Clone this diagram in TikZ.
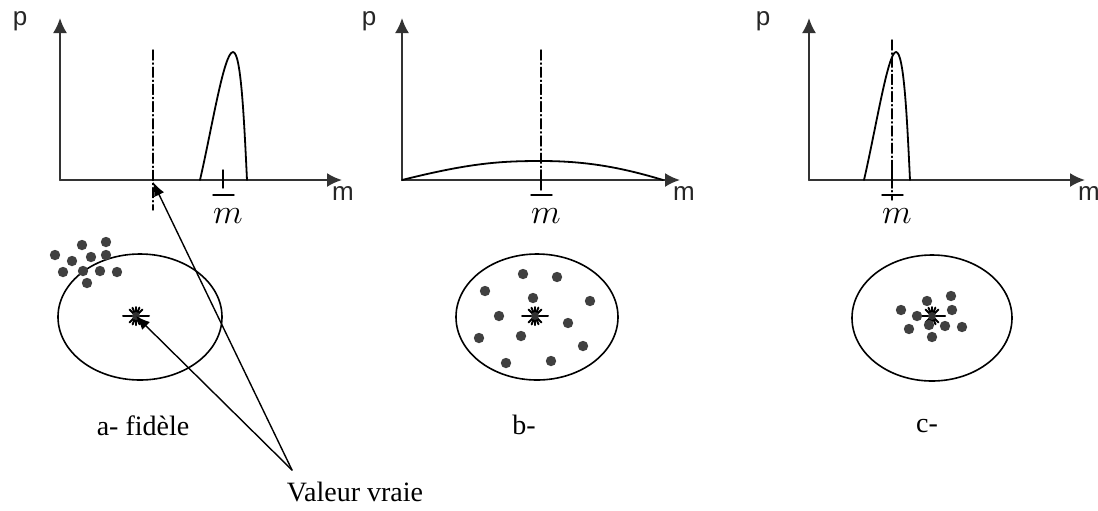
\documentclass[tikz,border=0pt]{standalone}
\usepackage{fontspec}
\setmainfont{Liberation Serif}
\newfontfamily\axfont{Liberation Sans}
\usetikzlibrary{arrows.meta}
\begin{document}
\begin{tikzpicture}[x=0.5pt,y=-0.5pt,>={Latex[length=7pt,width=5.5pt]},line join=round,line cap=round,
    axe/.style={-{Latex[length=7.5pt,width=7pt]},line width=1pt,black!80},
    lbl/.style={font=\axfont\fontsize{13}{15}\selectfont,black!85},
    moy/.style={font=\fontsize{16}{18}\selectfont},
    titre/.style={font=\fontsize{14}{16}\selectfont},
    point/.style={fill=black!75},
    vrai/.style={dash pattern=on 5pt off 1.5pt on 0.6pt off 1.5pt,line width=0.7pt}]
        \useasboundingbox (0,0) rectangle (1098,510);
        % axes
        \foreach \ox/\xe/\px/\mx/\nm in {60/342/20/343/a,402/680/369/684/b,809/1085/763/1089/c}{
            \draw[axe] (\ox,180)--(\ox,18);
            \draw[axe] (\ox,180)--(\xe,180);
            \node[lbl] (p\nm) at (\px,21) {p};
            \node[lbl] (m\nm) at (\mx,193) {m};
        }
        % valeur vraie
        \draw[vrai] (153,50)--(153,210);
        \draw[vrai] (541,50)--(541,190);
        \draw[vrai] (892,40)--(892,200);
        % courbes
        \draw[line width=0.9pt] (200,180) .. controls (212,128) and (224,52) .. (233,52) .. controls (241,52) and (244,118) .. (247,180);
        \draw[line width=0.9pt] (402,180) .. controls (470,163) and (500,161) .. (541,161) .. controls (585,161) and (620,167) .. (663,180);
        \draw[line width=0.9pt] (864,180) .. controls (876,128) and (888,52) .. (896,52) .. controls (904,52) and (907,118) .. (910,180);
        % moyennes
        \foreach \t/\nm in {223/a,541/b,892/c}{
            \draw[line width=0.7pt] (\t,170)--(\t,188) (\t-10,195)--(\t+11,195);
            \node[moy] (moy\nm) at (\t+5,216) {$m$};
        }
        % cibles
        \draw[line width=0.8pt] (140,317) ellipse (82 and 63);
        \draw[line width=0.8pt] (537,317) ellipse (81 and 63);
        \draw[line width=0.8pt] (932,318) ellipse (80 and 63);
        \foreach \sx/\nm in {136/A,535/B,932/C}{
            \coordinate (et\nm) at (\sx,316);
            \draw[line width=1pt] (\sx-13,316)--(\sx+13,316);
            \foreach \a in {45,90,135,67,112}
                \draw[line width=1pt] ([shift={(\a:9)}]et\nm)--([shift={(\a+180:9)}]et\nm);
            \fill[black!80] (et\nm) circle (4);
        }
        \foreach \dx/\dy in {55/255,82/245,106/242,72/261,91/257,106/255,63/272,83/271,100/271,117/272,87/283}
            \fill[point] (\dx,\dy) circle (5.2);
        \foreach \dx/\dy in {485/291,523/274,557/277,533/298,590/301,499/316,568/323,479/338,521/336,583/346,506/363,551/361}
            \fill[point] (\dx,\dy) circle (5.2);
        \foreach \dx/\dy in {927/301,951/296,901/310,952/310,917/316,929/325,945/326,962/327,909/329,932/337}
            \fill[point] (\dx,\dy) circle (5.2);
        % titres
        \node[titre] (ta) at (143,426) {a- fidèle};
        \node[titre] (tb) at (524,425) {b-};
        \node[titre] (tc) at (927,426) {c-};
        \node[titre] (vv) at (355,492) {Valeur vraie};
        \coordinate (apex) at (292,470);
        \coordinate (vraiA) at (153,182);
        \draw[->,line width=0.7pt] (apex)--(vraiA);
        \draw[->,line width=0.7pt] (apex)--(etA);

    \end{tikzpicture}
\end{document}
